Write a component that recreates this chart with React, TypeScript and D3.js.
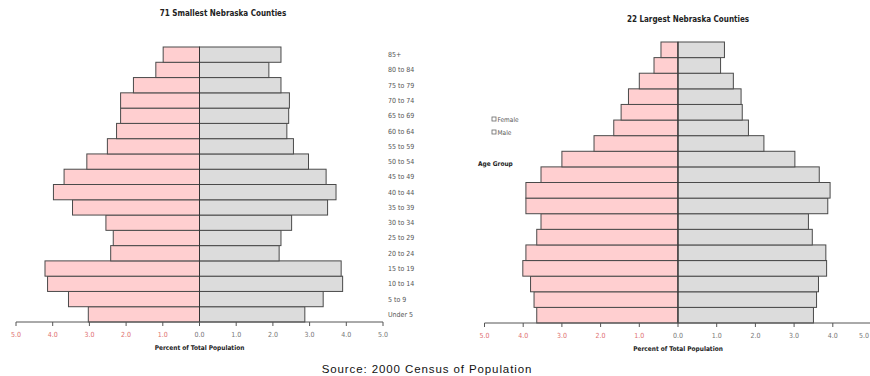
import React from "react";
import * as d3 from "d3";

const ageGroups = ["Under 5","5 to 9","10 to 14","15 to 19","20 to 24","25 to 29","30 to 34","35 to 39","40 to 44","45 to 49","50 to 54","55 to 59","60 to 64","65 to 69","70 to 74","75 to 79","80 to 84","85+"];
const smallFemale = [3.03,3.57,4.14,4.21,2.42,2.35,2.55,3.46,3.98,3.69,3.07,2.51,2.26,2.15,2.15,1.8,1.19,0.99];
const smallMale = [2.87,3.37,3.9,3.86,2.17,2.22,2.51,3.49,3.72,3.45,2.97,2.56,2.38,2.43,2.45,2.22,1.89,2.22];
const largeFemale = [3.65,3.72,3.81,4.01,3.93,3.65,3.54,3.93,3.93,3.54,3.0,2.17,1.66,1.47,1.28,1.0,0.62,0.44];
const largeMale = [3.5,3.58,3.63,3.84,3.82,3.47,3.37,3.87,3.93,3.65,3.02,2.22,1.82,1.66,1.63,1.43,1.1,1.2];
const tickValues = [-5,-4,-3,-2,-1,0,1,2,3,4,5];
const legendItems = ["Female","Male"];

const FONT = "'Liberation Sans Narrow','DejaVu Sans Condensed','Liberation Sans',Arial,sans-serif";
const PINK = "#ffcfd0";
const GREY = "#dcdcdc";
const STROKE = "#4a4a4a";

type PanelProps = {
  title: string; titleX: number; titleY: number;
  female: number[]; male: number[];
  x0: number; x1: number; yTop: number; yBot: number;
  showLabels?: boolean; labelX?: number; clipRight?: number;
};

function Panel(p: PanelProps) {
  const x = d3.scaleLinear().domain([-5, 5]).range([p.x0, p.x1]);
  const y = d3.scaleBand().domain([...ageGroups].reverse()).range([p.yTop, p.yBot]).padding(0);
  const fmt = d3.format(".1f");
  const axisY = p.yBot;
  return (
    <g>
      <text x={p.titleX} y={p.titleY} textAnchor="middle" fontFamily={FONT} fontWeight="bold" fontSize={8} fill="#222">{p.title}</text>
      {ageGroups.map((a, i) => (
        <g key={a}>
          <rect x={x(-p.female[i])} y={y(a)} width={x(0) - x(-p.female[i])} height={y.bandwidth()} fill={PINK} stroke={STROKE} strokeWidth={1} />
          <rect x={x(0)} y={y(a)} width={x(p.male[i]) - x(0)} height={y.bandwidth()} fill={GREY} stroke={STROKE} strokeWidth={1} />
          {p.showLabels && (
            <text x={p.labelX} y={(y(a) as number) + y.bandwidth() / 2 + 2.5} fontFamily={FONT} fontSize={7} fill="#555">{a}</text>
          )}
        </g>
      ))}
      <line x1={x(0)} x2={x(0)} y1={p.yTop} y2={axisY} stroke="#333" strokeWidth={1} />
      <line x1={x(-5)} x2={x(5)} y1={axisY} y2={axisY} stroke="#555" strokeWidth={1} />
      {tickValues.map(t => {
        const tx = x(t);
        const over = p.clipRight !== undefined && tx + 6 > p.clipRight;
        return (
          <g key={t}>
            <line x1={tx} x2={tx} y1={axisY} y2={axisY + 4} stroke="#555" strokeWidth={1} />
            <text x={over ? p.clipRight : tx} y={axisY + 15} textAnchor={over ? "end" : "middle"} fontFamily={FONT} fontSize={7} fill={t < 0 ? "#e07070" : "#777"}>{fmt(Math.abs(t))}</text>
          </g>
        );
      })}
      <text x={x(0)} y={axisY + 28} textAnchor="middle" fontFamily={FONT} fontWeight="bold" fontSize={6.5} fill="#222">Percent of Total Population</text>
    </g>
  );
}

export default function App() {
  return (
    <svg width={870} height={376} style={{ position: "absolute", left: 0, top: 0, background: "#fff" }}>
      <rect width={870} height={376} fill="#fff" />
      <Panel title="71 Smallest Nebraska Counties" titleX={223} titleY={16}
        female={smallFemale} male={smallMale} x0={16} x1={383} yTop={47} yBot={322}
        showLabels labelX={388} />
      <Panel title="22 Largest Nebraska Counties" titleX={688} titleY={22}
        female={largeFemale} male={largeMale} x0={484.5} x1={871.5} yTop={42} yBot={323} clipRight={869} />
      {legendItems.map((l, i) => (
        <g key={l}>
          <rect x={492} y={117 + i * 13} width={4} height={4} fill="#fff" stroke="#666" strokeWidth={0.8} />
          <text x={497.5} y={122 + i * 13} fontFamily={FONT} fontSize={6.5} fill="#555">{l}</text>
        </g>
      ))}
      <text x={478} y={166} fontFamily={FONT} fontWeight="bold" fontSize={6.5} fill="#222">Age Group</text>
      <text x={427} y={373} textAnchor="middle" fontFamily="'Liberation Sans',Arial,sans-serif" fontSize={11.5} fill="#111" letterSpacing={0.9}>Source: 2000 Census of Population</text>
    </svg>
  );
}
